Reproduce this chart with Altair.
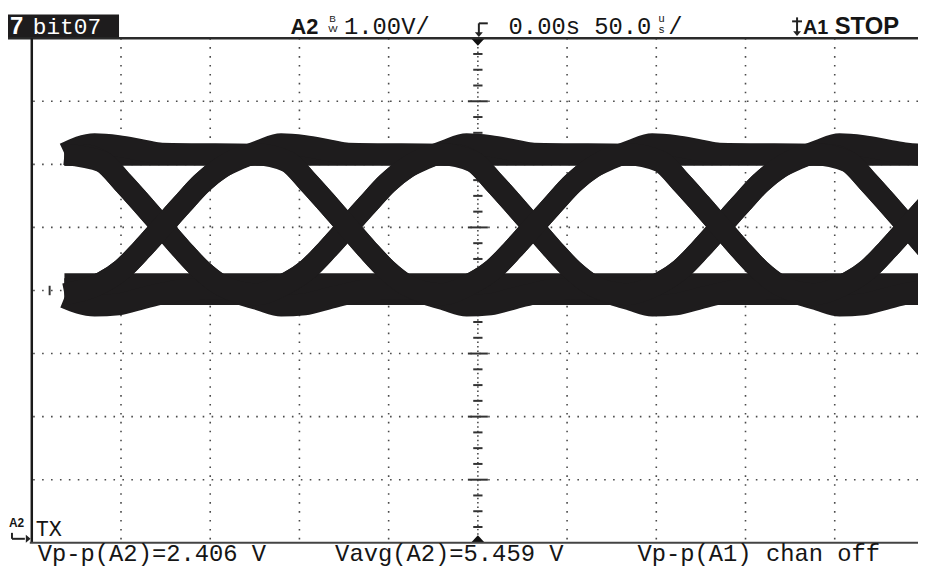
import altair as alt
import pandas as pd

# ---------------- data read from the screen ----------------
# time in µs (50 µs/div, 0 = trigger at screen centre); level in V (1 V/div, 0 = centre line)
hi_t = [-231.7, 252.0]
hi_v = [2.15, 2.15]
lo_t = [-231.7, 252.0]
lo_v = [0.02, 0.02]

# sweep 0,1,1,0,0,1,1
s1_t = [-231.7, -214.8, -201.5, -187.5, -177.0,
        -117.4, -106.3, -95.2, -84.1, -73.0, -61.9, -50.8, -39.7, -28.6,
        -18.0, -6.3, 7.0, 21.0, 31.5, 45.0,
        91.6, 102.7, 113.8, 124.9, 136.0, 147.1, 158.2, 169.3, 180.4,
        191.0, 202.7, 216.0, 230.0, 240.5, 252.0]
s1_v = [2.17, 2.32, 2.29, 2.22, 2.17,
        2.15, 2.04, 1.72, 1.37, 1.01, 0.65, 0.32, 0.08, -0.06,
        -0.15, -0.24, -0.22, -0.12, -0.05, 0.02,
        0.03, 0.13, 0.34, 0.66, 1.01, 1.36, 1.70, 1.95, 2.10,
        2.22, 2.32, 2.29, 2.22, 2.17, 2.15]
# sweep 1,0,0,1,1,0,0
s2_t = [-231.7, -214.8, -201.5, -187.5, -177.0, -160.0,
        -117.4, -106.3, -95.2, -84.1, -73.0, -61.9, -50.8, -39.7, -28.6,
        -18.0, -6.3, 7.0, 21.0, 31.5,
        91.6, 102.7, 113.8, 124.9, 136.0, 147.1, 158.2, 169.3, 180.4,
        191.0, 202.7, 216.0, 230.0, 240.5, 252.0]
s2_v = [-0.11, -0.24, -0.22, -0.12, -0.05, 0.02,
        0.03, 0.13, 0.34, 0.66, 1.01, 1.36, 1.70, 1.95, 2.10,
        2.22, 2.32, 2.29, 2.22, 2.17,
        2.15, 2.04, 1.72, 1.37, 1.01, 0.65, 0.32, 0.08, -0.06,
        -0.15, -0.24, -0.22, -0.12, -0.05, 0.00]
# sweep 0,0,1,1,0,0,1
s3_t = [-231.7,
        -221.4, -210.3, -199.2, -188.1, -177.0, -165.9, -154.8, -143.7, -132.6,
        -122.0, -110.3, -97.0, -83.0, -72.5,
        -13.4, -2.3, 8.8, 19.9, 31.0, 42.1, 53.2, 64.3, 75.4,
        86.0, 97.7, 111.0, 125.0, 135.5, 150.0,
        196.6, 207.7, 218.8, 229.9, 241.0, 252.1]
s3_v = [0.02,
        0.03, 0.13, 0.34, 0.66, 1.01, 1.36, 1.70, 1.95, 2.10,
        2.22, 2.32, 2.29, 2.22, 2.17,
        2.15, 2.04, 1.72, 1.37, 1.01, 0.65, 0.32, 0.08, -0.06,
        -0.15, -0.24, -0.22, -0.12, -0.05, 0.02,
        0.03, 0.13, 0.34, 0.66, 1.01, 1.36]
# sweep 1,1,0,0,1,1,0
s4_t = [-231.7,
        -221.4, -210.3, -199.2, -188.1, -177.0, -165.9, -154.8, -143.7, -132.6,
        -122.0, -110.3, -97.0, -83.0, -72.5, -58.0,
        -13.4, -2.3, 8.8, 19.9, 31.0, 42.1, 53.2, 64.3, 75.4,
        86.0, 97.7, 111.0, 125.0, 135.5,
        196.6, 207.7, 218.8, 229.9, 241.0, 252.1]
s4_v = [2.15,
        2.15, 2.04, 1.72, 1.37, 1.01, 0.65, 0.32, 0.08, -0.06,
        -0.15, -0.24, -0.22, -0.12, -0.05, 0.02,
        0.03, 0.13, 0.34, 0.66, 1.01, 1.36, 1.70, 1.95, 2.10,
        2.22, 2.32, 2.29, 2.22, 2.17,
        2.15, 2.04, 1.72, 1.37, 1.01, 0.65]
# sweep 0,1,0,1,0,1,0
s5_t = [-231.7,
        -210.3, -199.2, -188.1, -177.0, -165.9, -154.8, -143.7, -124.8,
        -106.3, -95.2, -84.1, -73.0, -61.9, -50.8, -39.7, -20.8,
        -2.3, 8.8, 19.9, 31.0, 42.1, 53.2, 64.3, 83.2,
        102.7, 113.8, 124.9, 136.0, 147.1, 158.2, 169.3, 188.2,
        207.7, 218.8, 229.9, 241.0, 252.1]
s5_v = [2.16,
        2.04, 1.72, 1.37, 1.01, 0.65, 0.32, 0.08, -0.06,
        0.13, 0.34, 0.66, 1.01, 1.36, 1.70, 1.95, 2.16,
        2.04, 1.72, 1.37, 1.01, 0.65, 0.32, 0.08, -0.06,
        0.13, 0.34, 0.66, 1.01, 1.36, 1.70, 1.95, 2.16,
        2.04, 1.72, 1.37, 1.01, 0.65]
# sweep 1,0,1,0,1,0,1
s6_t = [-231.7,
        -210.3, -199.2, -188.1, -177.0, -165.9, -154.8, -143.7, -124.8,
        -106.3, -95.2, -84.1, -73.0, -61.9, -50.8, -39.7, -20.8,
        -2.3, 8.8, 19.9, 31.0, 42.1, 53.2, 64.3, 83.2,
        102.7, 113.8, 124.9, 136.0, 147.1, 158.2, 169.3, 188.2,
        207.7, 218.8, 229.9, 241.0, 252.1]
s6_v = [-0.06,
        0.13, 0.34, 0.66, 1.01, 1.36, 1.70, 1.95, 2.16,
        2.04, 1.72, 1.37, 1.01, 0.65, 0.32, 0.08, -0.06,
        0.13, 0.34, 0.66, 1.01, 1.36, 1.70, 1.95, 2.16,
        2.04, 1.72, 1.37, 1.01, 0.65, 0.32, 0.08, -0.06,
        0.13, 0.34, 0.66, 1.01, 1.36]

# graticule
grid_t = [-200, -150, -100, -50, 50, 100, 150, 200]
grid_v = [-3, -2, -1, 0, 1, 2, 3]

header_chan = "A2"
header_scale = "1.00V/"
header_time = "0.00s 50.0"
header_trig = "A1"
header_state = "STOP"
label_left = "7"
label_name = "bit07"
trace_label = "TX"
meas = ["Vp-p(A2)=2.406 V", "Vavg(A2)=5.459 V", "Vp-p(A1) chan off"]

# ---------------- tables ----------------
INK = "#1e1c1d"
MONO = "Liberation Mono"
rows = []
for name, ts, vs in [("S1", s1_t, s1_v), ("S2", s2_t, s2_v), ("S3", s3_t, s3_v),
                     ("S4", s4_t, s4_v), ("S5", s5_t, s5_v), ("S6", s6_t, s6_v)]:
    for t, v in zip(ts, vs):
        rows.append({"sweep": name, "t": t, "v": v})
sweep_df = pd.DataFrame(rows)
hi_df = pd.DataFrame({"t": hi_t, "v": hi_v})
lo_df = pd.DataFrame({"t": lo_t, "v": lo_v})

xs = alt.Scale(domain=[-250, 246.67], nice=False, zero=False)
ys = alt.Scale(domain=[-4, 4], nice=False, zero=False)
X = lambda f: alt.X(f, scale=xs, axis=None)
Y = lambda f: alt.Y(f, scale=ys, axis=None)

one = pd.DataFrame({"_": [0]})

# dotted grid
vgrid = alt.Chart(pd.DataFrame({"t": grid_t})).mark_rule(
    strokeDash=[1.6, 7.4], strokeWidth=1.6, color="#4a4a4a").encode(x=X("t:Q"))
hgrid = alt.Chart(pd.DataFrame({"v": grid_v})).mark_rule(
    strokeDash=[1.6, 7.4], strokeWidth=1.6, color="#4a4a4a").encode(y=Y("v:Q"))
cline = alt.Chart(pd.DataFrame({"t": [0]})).mark_rule(
    strokeDash=[1.5, 3.0], strokeWidth=1.6, color="#4a4a4a").encode(x=X("t:Q"))

# centre-axis ticks
vt = [i * 0.25 for i in range(-15, 16)]
vtick_df = pd.DataFrame({"v": vt,
                         "x0": [(-5.6 if abs(v - round(v)) < 1e-9 else -2.6) for v in vt],
                         "x1": [(5.6 if abs(v - round(v)) < 1e-9 else 2.6) for v in vt]})
vticks = alt.Chart(vtick_df).mark_rule(strokeWidth=2, color="#333").encode(
    x=X("x0:Q"), x2="x1:Q", y=Y("v:Q"))
ht = [i * 10 for i in range(-24, 25)]
htick_df = pd.DataFrame({"t": ht,
                         "y0": [(-0.15 if t % 50 == 0 else -0.075) for t in ht],
                         "y1": [(0.15 if t % 50 == 0 else 0.075) for t in ht]})
hticks = alt.Chart(htick_df).mark_rule(strokeWidth=2, color="#333").encode(
    x=X("t:Q"), y=Y("y0:Q"), y2="y1:Q")

# waveform
rail_hi = alt.Chart(hi_df).mark_line(strokeWidth=22, color=INK, strokeCap="butt", clip=True).encode(
    x=X("t:Q"), y=Y("v:Q"))
rail_lo = alt.Chart(lo_df).mark_line(strokeWidth=32, color=INK, strokeCap="butt", clip=True).encode(
    x=X("t:Q"), y=Y("v:Q"))
sweeps = alt.Chart(sweep_df).mark_line(strokeWidth=22, color=INK, strokeCap="butt",
                                       strokeJoin="round", interpolate="monotone", clip=True).encode(
    x=X("t:Q"), y=Y("v:Q"), detail="sweep:N")

# markers
tri_top = alt.Chart(pd.DataFrame({"t": [0], "v": [4]})).mark_point(
    shape="M-1,0L1,0L0,1.1Z", size=196, filled=True, opacity=1, color="#111").encode(x=X("t:Q"), y=Y("v:Q"))
tri_bot = alt.Chart(pd.DataFrame({"t": [0], "v": [-4]})).mark_point(
    shape="M-1,0L1,0L0,-1.1Z", size=196, filled=True, opacity=1, color="#111").encode(x=X("t:Q"), y=Y("v:Q"))


def rule(x1, y1, x2, y2, w=2, c="#222"):
    return alt.Chart(one).mark_rule(strokeWidth=w, color=c).encode(
        x=alt.value(x1), y=alt.value(y1), x2=alt.value(x2), y2=alt.value(y2))


def txt(s, x, y, size=24, font=MONO, weight="normal", color="#151515"):
    return alt.Chart(one).mark_text(text=s, font=font, fontSize=size, fontWeight=weight, color=color,
                                    align="left", baseline="alphabetic").encode(
        x=alt.value(x), y=alt.value(y))


def tri(x, y, path, size=64):
    return alt.Chart(one).mark_point(shape=path, size=size, filled=True, opacity=1, color="#222").encode(
        x=alt.value(x), y=alt.value(y))


# frame
frame = [
    rule(-24, 0, 894, 0, w=2.5, c="#2a2a2a"),
    rule(0, 0, 0, 509, w=2.5, c="#1a1a1a"),
    rule(-2, 509, 894, 509, w=2.2, c="#444"),
]

header_box = alt.Chart(one).mark_rect(color="#1e1c1d").encode(
    x=alt.value(-24), x2=alt.value(88), y=alt.value(-24), y2=alt.value(-1))

texts = [
    txt(label_left, -22, -4, size=24, font="Liberation Sans", weight="bold", color="white"),
    txt(label_name, 1, -4, size=23, color="white"),
    txt(header_chan, 261, -4, size=22, font="Liberation Sans", weight="bold"),
    txt("B", 300, -16, size=10, font="Liberation Sans"),
    txt("W", 299, -6, size=10, font="Liberation Sans"),
    txt(header_scale, 315, -4),
    txt(header_time, 481, -4),
    txt("u", 632, -16, size=11),
    txt("s", 632, -5, size=11),
    txt("/", 642, -4),
    txt(header_trig, 778, -4, size=20, font="Liberation Sans", weight="bold"),
    txt(header_state, 810, -4, size=24, font="Liberation Sans", weight="bold"),
    txt(trace_label, 4, 502, size=22),
    txt("A2", -23, 493, size=12, font="Liberation Sans", weight="bold"),
    txt(meas[0], 6, 527),
    txt(meas[1], 306, 527),
    txt(meas[2], 611, 527),
]

icons = [
    rule(451, -15, 460, -15, w=2),
    rule(451, -15, 451, -5, w=2),
    tri(451, -6, "M-1,0L1,0L0,1.2Z", size=64),
    rule(772, -21, 772, -6, w=2),
    rule(767, -17, 777, -17, w=2),
    tri(772, -7, "M-1,0L1,0L0,1.2Z", size=64),
    rule(-20, 499, -20, 505, w=2),
    rule(-20, 505, -7, 505, w=2),
    tri(-6, 505, "M0,-1L0,1L1.2,0Z", size=64),
]

chart = alt.layer(
    vgrid, hgrid, cline, vticks, hticks,
    rail_hi, rail_lo, sweeps,
    tri_top, tri_bot,
    *frame, header_box, *texts, *icons,
).properties(
    width=894, height=509,
    padding={"left": 24, "top": 28, "right": 0, "bottom": 24},
    autosize=alt.AutoSizeParams(type="none"),
    background="white",
).configure_view(stroke=None)

chart.save("out.html", embed_options={"renderer": "svg", "actions": False})
